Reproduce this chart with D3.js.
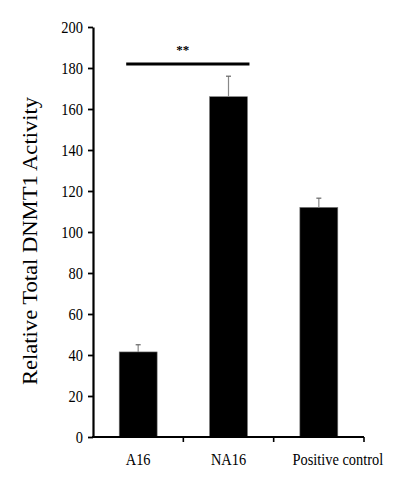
<!DOCTYPE html>
<html>
<head>
<meta charset="utf-8">
<script src="https://cdn.jsdelivr.net/npm/d3@7"></script>
<style>
  body { margin: 0; background: #fff; }
</style>
</head>
<body>
<svg id="chart"></svg>
<script>
// data
var groups = ["A16", "NA16", "Positive control"];
var means = [41.5, 166, 112];
var errors = [3.5, 10, 4.5];
var yTicks = [0, 20, 40, 60, 80, 100, 120, 140, 160, 180, 200];
var sigPair = ["A16", "NA16"];
var sigLevel = 182; // height of the bracket line
var sigLabel = "**";

var serif = "'Liberation Serif', 'Times New Roman', serif";

var svgWidth = 398, svgHeight = 479;
var margin = { top: 27, right: 34, bottom: 42, left: 93 };
var width = svgWidth - margin.left - margin.right;
var height = svgHeight - margin.top - margin.bottom;

var svg = d3.select("#chart")
    .attr("width", svgWidth)
    .attr("height", svgHeight);

var g = svg.append("g")
    .attr("transform", "translate(" + margin.left + "," + margin.top + ")");

var x = d3.scaleBand()
    .domain(groups)
    .range([0, width])
    .paddingInner(0.58)
    .paddingOuter(0.29);

var y = d3.scaleLinear()
    .domain([0, 200])
    .range([height, 0]);

// bars
g.selectAll("rect.bar")
    .data(groups)
    .enter().append("rect")
    .attr("class", "bar")
    .attr("x", function(d) { return x(d); })
    .attr("y", function(d, i) { return y(means[i]); })
    .attr("width", x.bandwidth())
    .attr("height", function(d, i) { return height - y(means[i]); })
    .attr("fill", "#000")
    .attr("stroke", "#777")
    .attr("stroke-width", 0.6);

// error bars (upper only)
var eb = g.selectAll("g.err")
    .data(groups)
    .enter().append("g")
    .attr("class", "err");

eb.append("line")
    .attr("x1", function(d) { return x(d) + x.bandwidth() / 2; })
    .attr("x2", function(d) { return x(d) + x.bandwidth() / 2; })
    .attr("y1", function(d, i) { return y(means[i]); })
    .attr("y2", function(d, i) { return y(means[i] + errors[i]); })
    .attr("stroke", "#888")
    .attr("stroke-width", 1.2);

eb.append("line")
    .attr("x1", function(d) { return x(d) + x.bandwidth() / 2 - 2.5; })
    .attr("x2", function(d) { return x(d) + x.bandwidth() / 2 + 2.5; })
    .attr("y1", function(d, i) { return y(means[i] + errors[i]); })
    .attr("y2", function(d, i) { return y(means[i] + errors[i]); })
    .attr("stroke", "#666")
    .attr("stroke-width", 1.2);

// y axis
var yAxis = g.append("g")
    .call(d3.axisLeft(y).tickValues(yTicks).tickSize(5).tickSizeOuter(0).tickPadding(4));
yAxis.select(".domain").attr("stroke-width", 2.2);
yAxis.selectAll(".tick line").attr("stroke-width", 1.8);
yAxis.selectAll(".tick text")
    .style("font-family", serif)
    .style("font-size", "17px")
    .attr("fill", "#000")
    .attr("transform", "scale(0.85,1)")
    .attr("x", -10 / 0.85);

// x axis: baseline with ticks on the category boundaries
var xAxis = g.append("g").attr("transform", "translate(0," + height + ")");
xAxis.append("line")
    .attr("x1", -1).attr("x2", width)
    .attr("stroke", "#000").attr("stroke-width", 2.2);
xAxis.selectAll("line.tk")
    .data(groups)
    .enter().append("line")
    .attr("class", "tk")
    .attr("x1", function(d, i) { return (i + 1) * x.step(); })
    .attr("x2", function(d, i) { return (i + 1) * x.step(); })
    .attr("y1", 0).attr("y2", 5)
    .attr("stroke", "#000").attr("stroke-width", 1.6);
xAxis.selectAll("text")
    .data(groups)
    .enter().append("text")
    .attr("transform", function(d) {
        return "translate(" + (x(d) + x.bandwidth() / 2 + (d === "Positive control" ? 19 : 0)) + ",28) scale(0.9,1)";
    })
    .attr("text-anchor", "middle")
    .style("font-family", serif)
    .style("font-size", "16px")
    .attr("fill", "#000")
    .text(function(d) { return d; });

// y axis label
svg.append("text")
    .attr("transform", "translate(37,241) rotate(-90)")
    .attr("text-anchor", "middle")
    .style("font-family", serif)
    .style("font-size", "21px")
    .attr("textLength", 288)
    .attr("lengthAdjust", "spacingAndGlyphs")
    .attr("fill", "#000")
    .text("Relative Total DNMT1 Activity");

// significance bracket
var sx1 = x(sigPair[0]) + 7;
var sx2 = x(sigPair[1]) + x.bandwidth() + 2;
g.append("line")
    .attr("x1", sx1).attr("x2", sx2)
    .attr("y1", y(sigLevel)).attr("y2", y(sigLevel))
    .attr("stroke", "#000").attr("stroke-width", 3);
g.append("text")
    .attr("x", (sx1 + sx2) / 2 - 5)
    .attr("y", y(sigLevel) - 10)
    .attr("text-anchor", "middle")
    .style("font-family", serif)
    .style("font-size", "13px")
    .style("font-weight", "bold")
    .attr("fill", "#000")
    .text(sigLabel);
</script>
</body>
</html>
